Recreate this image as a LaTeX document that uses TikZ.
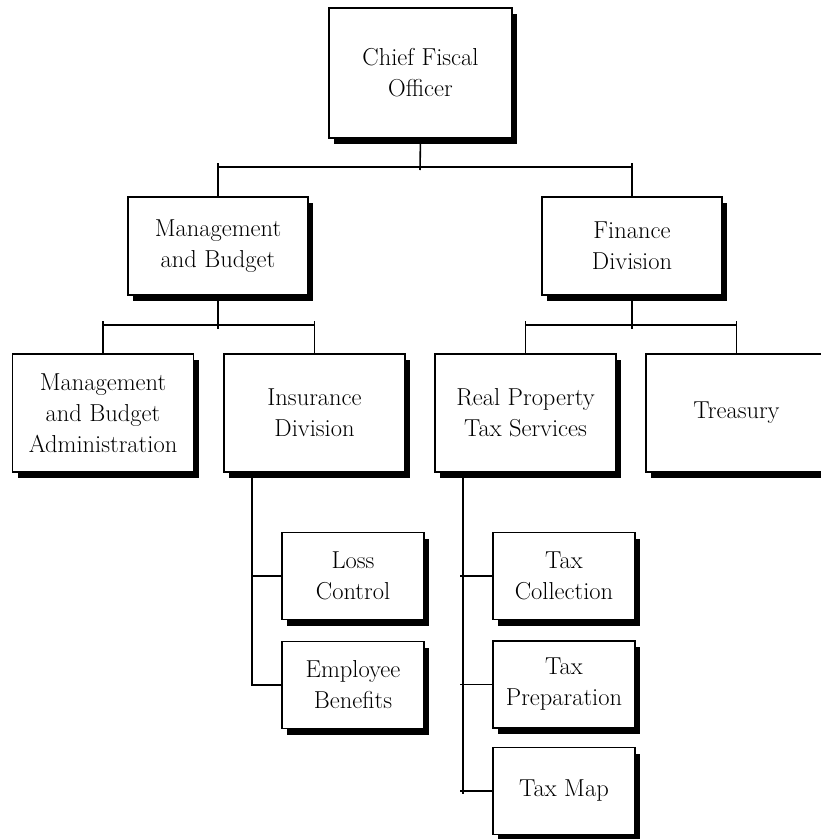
\documentclass[tikz,border=0pt]{standalone}
\usepackage{tikz}
\usetikzlibrary{shadows}

\begin{document}
\begin{tikzpicture}[x=1pt,y=-1pt]
		\tikzstyle{every node}+=[inner sep=0pt, align=center, font=\fontsize{24.5}{31}\selectfont]
		\tikzstyle{unit}=[draw=black, line width=1.4pt, fill=white, drop shadow={shadow xshift=5pt, shadow yshift=-6pt, fill=black, opacity=1}]
		\tikzstyle{big}=[unit, minimum width=181pt, minimum height=118pt]
		\tikzstyle{small}=[unit, minimum width=142pt, minimum height=87pt]
		\tikzstyle{wire}=[black, line width=1.6pt]
		\useasboundingbox (0,0) rectangle (821,839);
		% top level
		\node [unit, minimum width=183pt, minimum height=130pt] (cfo) at (420.5,73) {Chief Fiscal\\Officer};
		\node [unit, minimum width=180pt, minimum height=98pt] (mb) at (218,246) {Management\\and Budget};
		\node [unit, minimum width=180pt, minimum height=98pt] (fd) at (632,246) {Finance\\Division};
		% divisions
		\node [big] (mba) at (103,413) {Management\\and Budget\\Administration};
		\node [big] (ins) at (314.5,413) {Insurance\\Division};
		\node [big] (rpts) at (525.5,413) {Real Property\\Tax Services};
		\node [big] (tre) at (736.5,413) {Treasury};
		% sections
		\node [small] (lc) at (353,576) {Loss\\Control};
		\node [small] (eb) at (353,685) {Employee\\Benefits};
		\node [small] (tc) at (564,576) {Tax\\Collection};
		\node [small] (tp) at (564,684.5) {Tax\\Preparation};
		\node [small] (tm) at (564,791) {Tax Map};
		% bus lines
		\coordinate (bus1) at (420,167);
		\coordinate (bus2) at (420,325);
		\coordinate (insroot) at (252,472);
		\coordinate (taxroot) at (463,472);
		\draw [wire] (cfo.south) -- ([yshift=-3pt]bus1);
		\draw [wire] (mb.north |- bus1) -- (fd.north |- bus1);
		\draw [wire] (mb.north) -- ++(0,-33);
		\draw [wire] (fd.north) -- ++(0,-33);
		\draw [wire] (mb.south) -- ++(0,33);
		\draw [wire] (mba.north |- bus2) -- (ins.north |- bus2);
		\draw [wire] (mba.north) -- ++(0,-32);
		\draw [wire] (ins.north) -- ++(0,-32);
		\draw [wire] (fd.south) -- ++(0,33);
		\draw [wire] (rpts.north |- bus2) -- (tre.north |- bus2);
		\draw [wire] (rpts.north) -- ++(0,-32);
		\draw [wire] (tre.north) -- ++(0,-32);
		% insurance sections
		\draw [wire] (insroot) |- (eb.west);
		\draw [wire] (insroot |- lc.west) -- (lc.west);
		% tax sections
		\draw [wire] (taxroot) -- ([yshift=-3pt]taxroot |- tm.west);
		\draw [wire] ([xshift=-3pt]taxroot |- tc.west) -- (tc.west);
		\draw [wire] ([xshift=-3pt]taxroot |- tp.west) -- (tp.west);
		\draw [wire] ([xshift=-3pt]taxroot |- tm.west) -- (tm.west);
		\end{tikzpicture}
\end{document}
